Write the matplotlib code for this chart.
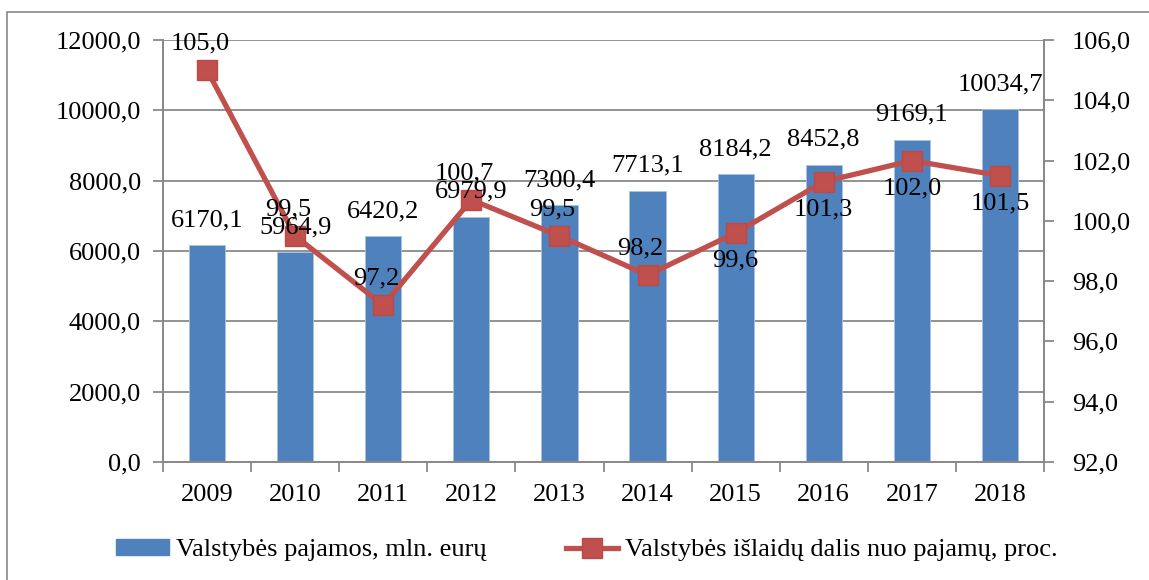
import matplotlib
matplotlib.use("Agg")
import matplotlib.pyplot as plt
from matplotlib.patches import Rectangle, Patch
from matplotlib.lines import Line2D
from matplotlib.ticker import FuncFormatter, MultipleLocator, FixedLocator

years = ["2009", "2010", "2011", "2012", "2013", "2014", "2015", "2016", "2017", "2018"]
revenue = [6170.1, 5964.9, 6420.2, 6979.9, 7300.4, 7713.1, 8184.2, 8452.8, 9169.1, 10034.7]
spend_share = [105.0, 99.5, 97.2, 100.7, 99.5, 98.2, 99.6, 101.3, 102.0, 101.5]
share_label_side = ["above", "above", "above", "above", "above", "above",
                    "below", "below", "below", "below"]

bar_label = "Valstybės pajamos, mln. eurų"
line_label = "Valstybės išlaidų dalis nuo pajamų, proc."

BLUE = "#4F81BD"
RED = "#C0504D"
GRID = "#898989"
FS = 19

plt.rcParams["font.family"] = ["Liberation Serif", "DejaVu Serif"]


def comma(v, _pos=None):
    return f"{v:.1f}".replace(".", ",")


W, H = 1149, 580
fig = plt.figure(figsize=(W / 100, H / 100), dpi=100)
left, right, top, bottom = 163, 1044, 40, 462
ax1 = fig.add_axes([left / W, 1 - bottom / H, (right - left) / W, (bottom - top) / H])
ax2 = ax1.twinx()

# outer frame of the chart (runs off the right/bottom edge)
fig.add_artist(Rectangle((7 / W, -0.2), 1.2, 1 - 12 / H + 0.2, transform=fig.transFigure,
                         fill=False, edgecolor=GRID, lw=1.2, clip_on=False))

x = list(range(len(years)))
ax1.bar(x, revenue, width=0.41, color=BLUE, edgecolor="#A9C2E0", linewidth=0.6, zorder=2)
ax1.set_xlim(-0.5, len(years) - 0.5)
ax1.set_ylim(0, 12000)
ax1.yaxis.set_major_locator(MultipleLocator(2000))
ax1.yaxis.set_major_formatter(FuncFormatter(comma))
ax1.grid(axis="y", color=GRID, lw=1.3, zorder=0)
ax1.set_axisbelow(True)

ax1.set_xticks(x)
ax1.set_xticklabels(years)
ax1.xaxis.set_minor_locator(FixedLocator([i - 0.5 for i in range(len(years) + 1)]))
ax1.tick_params(axis="x", which="major", length=0, pad=16, labelsize=FS)
ax1.tick_params(axis="x", which="minor", length=7, width=1.3, color=GRID, direction="out")
ax1.tick_params(axis="y", length=7, width=1.3, color=GRID, pad=9, labelsize=FS)

ax2.plot(x, spend_share, color=RED, lw=3.8, marker="s", markersize=14,
         markerfacecolor=RED, markeredgecolor="#B84A47", zorder=3)
ax2.set_ylim(92, 106)
ax2.yaxis.set_major_locator(MultipleLocator(2))
ax2.yaxis.set_major_formatter(FuncFormatter(comma))
ax2.tick_params(axis="y", length=7, width=1.3, color=GRID, pad=13, labelsize=FS)

for ax in (ax1, ax2):
    ax.spines["top"].set_visible(False)
    for s in ("left", "right", "bottom"):
        ax.spines[s].set_color(GRID)
        ax.spines[s].set_linewidth(1.3)

# bar value labels (drawn on top axes so they sit over the line)
for i, v in enumerate(revenue):
    ax2.annotate(comma(v), xy=(i, v), xycoords=ax1.transData, xytext=(0, 18),
                 textcoords="offset points", ha="center", va="center", fontsize=FS, zorder=5)

for i, (v, side) in enumerate(zip(spend_share, share_label_side)):
    dy = 19 if side == "above" else -20
    dx = -5 if side == "above" else 0
    ax2.annotate(comma(v), xy=(i, v), xytext=(dx, dy), textcoords="offset points",
                 ha="center", va="center", fontsize=FS, zorder=5)

handles = [Patch(facecolor=BLUE, edgecolor=BLUE),
           Line2D([], [], color=RED, lw=3.8, marker="s", markersize=14,
                  markerfacecolor=RED, markeredgecolor="#B84A47")]
fig.legend(handles, [bar_label, line_label], loc="center", ncol=2,
           bbox_to_anchor=(587 / W, 30 / H), frameon=False, fontsize=FS,
           handlelength=2.0, handleheight=0.55, handletextpad=0.25, columnspacing=3.0)

fig.savefig("out.png", dpi=100)
